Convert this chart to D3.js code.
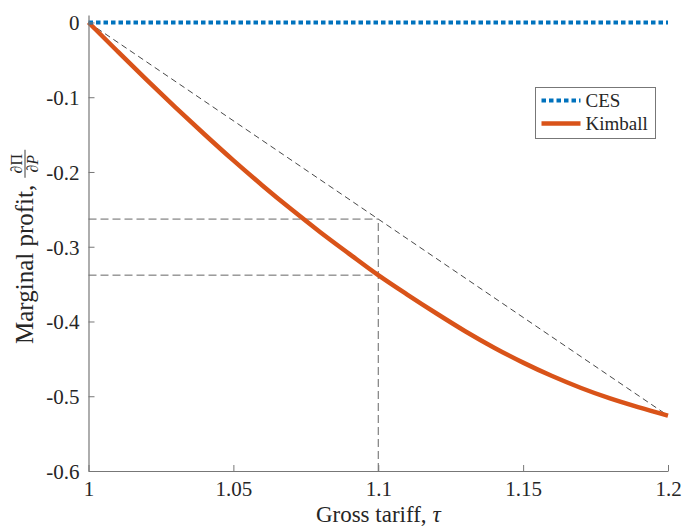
<!DOCTYPE html>
<html>
<head>
<meta charset="utf-8">
<script src="https://cdn.jsdelivr.net/npm/d3@7"></script>
<style>
  body { margin: 0; background: #fff; }
  svg text { font-family: "Liberation Serif", "DejaVu Serif", serif !important; fill: #262626; }
</style>
</head>
<body>
<div id="vis"></div>
<script>
// gross tariff values and marginal profit
var tau = [1.00, 1.01, 1.02, 1.03, 1.04, 1.05, 1.06, 1.07, 1.08, 1.09, 1.10,
           1.11, 1.12, 1.13, 1.14, 1.15, 1.16, 1.17, 1.18, 1.19, 1.20];
var ces = [0, 0, 0, 0, 0, 0, 0, 0, 0, 0, 0, 0, 0, 0, 0, 0, 0, 0, 0, 0, 0];
var kimball = [0, -0.0385, -0.0765, -0.1135, -0.1495, -0.1845, -0.218, -0.25, -0.2805, -0.3095, -0.338,
               -0.364, -0.389, -0.413, -0.435, -0.455, -0.473, -0.489, -0.503, -0.515, -0.526];
var xTicks = [1, 1.05, 1.1, 1.15, 1.2];
var yTicks = [0, -0.1, -0.2, -0.3, -0.4, -0.5, -0.6];
// reference guides: chord from (1,0) to (1.2,-0.526), marked at tau = 1.1
var chordX = [1, 1.2];
var chordY = [0, -0.526];
var markTau = 1.1;
var markChord = -0.263;
var markKimball = -0.338;

var W = 682, H = 526;
var margin = {top: 15, left: 88.5};

var x = d3.scaleLinear().domain([1, 1.2]).range([0, 579.5]);
var y = d3.scaleLinear().domain([-0.6, 0.01]).range([456, 0]);

var svg = d3.select("#vis").append("svg")
    .attr("width", W)
    .attr("height", H);
var g = svg.append("g")
    .attr("transform", "translate(" + margin.left + "," + margin.top + ")");

// guide lines
g.append("line")
    .attr("x1", x(chordX[0])).attr("y1", y(chordY[0]))
    .attr("x2", x(chordX[1])).attr("y2", y(chordY[1]))
    .attr("stroke", "#333").attr("stroke-width", 0.9)
    .attr("stroke-dasharray", "6,4");
[markChord, markKimball].forEach(function(v) {
  g.append("line")
      .attr("x1", x(1)).attr("y1", y(v))
      .attr("x2", x(markTau)).attr("y2", y(v))
      .attr("stroke", "#666").attr("stroke-width", 1)
      .attr("stroke-dasharray", "8,4");
});
g.append("line")
    .attr("x1", x(markTau)).attr("y1", y(-0.6))
    .attr("x2", x(markTau)).attr("y2", y(markChord))
    .attr("stroke", "#666").attr("stroke-width", 1)
    .attr("stroke-dasharray", "8,4");

var line = d3.line()
    .x(function(d) { return x(d[0]); })
    .y(function(d) { return y(d[1]); })
    .curve(d3.curveMonotoneX);

g.append("path")
    .datum(d3.zip(tau, kimball))
    .attr("d", line)
    .attr("fill", "none")
    .attr("stroke", "#D95319")
    .attr("stroke-width", 4.5);

g.append("path")
    .datum(d3.zip(tau, ces))
    .attr("d", line)
    .attr("fill", "none")
    .attr("stroke", "#0072BD")
    .attr("stroke-width", 4)
    .attr("stroke-dasharray", "4.5,3");

// axes (MATLAB style, ticks inside, box off)
var xAxis = g.append("g")
    .attr("transform", "translate(0," + y(-0.6) + ")")
    .call(d3.axisBottom(x).tickValues(xTicks).tickSizeInner(-6).tickSizeOuter(0)
      .tickPadding(10).tickFormat(function(d) { return d3.format("")(d); }));
var yAxis = g.append("g")
    .call(d3.axisLeft(y).tickValues(yTicks).tickSizeInner(-6).tickSizeOuter(0)
      .tickPadding(9).tickFormat(function(d) { return d === 0 ? "0" : d3.format(".1f")(d).replace("−", "-"); }));
[xAxis, yAxis].forEach(function(a) {
  a.attr("font-family", null);
  a.select(".domain").attr("stroke", "#777").attr("stroke-width", 1.2);
  a.selectAll(".tick line").attr("stroke", "#777");
  a.selectAll(".tick text").attr("font-size", 21).attr("fill", "#262626");
});
yAxis.selectAll(".tick text").attr("dy", "0.35em");

// x label
svg.append("text")
    .attr("x", margin.left + x(1.1))
    .attr("y", 522)
    .attr("text-anchor", "middle")
    .attr("font-size", 23)
    .html('Gross tariff, <tspan font-style="italic">τ</tspan>');

// y label with fraction
var yl = svg.append("g").attr("transform", "translate(33,0) rotate(-90)");
var lab = yl.append("text")
    .attr("x", -344).attr("y", 0)
    .attr("font-size", 25)
    .text("Marginal profit,");
var L = lab.node().getComputedTextLength();
var fx = -344 + L + 7;
yl.append("text").attr("x", fx + 14).attr("y", -11).attr("text-anchor", "middle")
    .attr("font-size", 16).text("∂Π");
yl.append("line").attr("x1", fx).attr("x2", fx + 28).attr("y1", -8).attr("y2", -8)
    .attr("stroke", "#262626").attr("stroke-width", 0.9);
yl.append("text").attr("x", fx + 14).attr("y", 5).attr("text-anchor", "middle")
    .attr("font-size", 16).html('∂<tspan font-style="italic">P</tspan>');

// legend
var lg = svg.append("g").attr("transform", "translate(535.5,87.5)");
lg.append("rect").attr("width", 120).attr("height", 51)
    .attr("fill", "#fff").attr("stroke", "#777").attr("stroke-width", 1);
var items = [
  {name: "CES", color: "#0072BD", dash: "4.5,3", w: 4},
  {name: "Kimball", color: "#D95319", dash: null, w: 4.5}
];
items.forEach(function(it, i) {
  var yy = 13 + i * 23;
  lg.append("line").attr("x1", 6).attr("x2", 45).attr("y1", yy).attr("y2", yy)
      .attr("stroke", it.color).attr("stroke-width", it.w)
      .attr("stroke-dasharray", it.dash);
  lg.append("text").attr("x", 50).attr("y", yy).attr("dy", "0.35em")
      .attr("font-size", 19).text(it.name);
});
</script>
</body>
</html>
